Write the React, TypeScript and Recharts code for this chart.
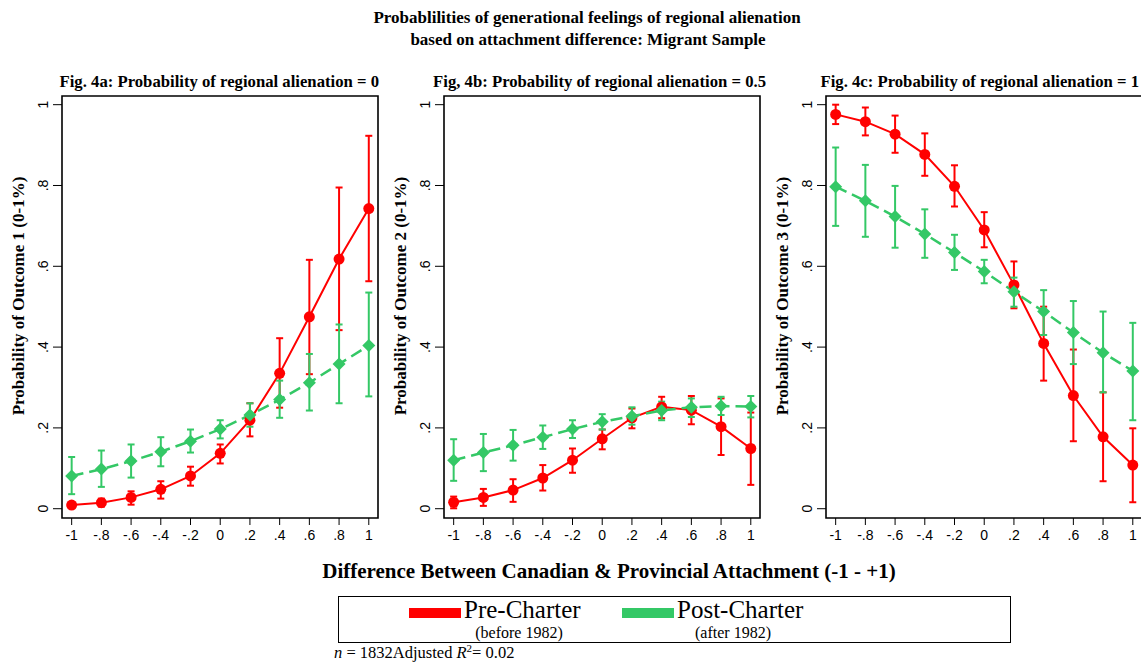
import React from "react";
import { LineChart, Line, XAxis, YAxis, ErrorBar, ReferenceArea } from "recharts";

// ---------- data ----------
const xValues = [-1, -0.8, -0.6, -0.4, -0.2, 0, 0.2, 0.4, 0.6, 0.8, 1];
const xTickLabels = ["-1", "-.8", "-.6", "-.4", "-.2", "0", ".2", ".4", ".6", ".8", "1"];
const yTicks = [0, 0.2, 0.4, 0.6, 0.8, 1];
const yTickLabels = ["0", ".2", ".4", ".6", ".8", "1"];

// Fig 4a (outcome 1)
const pre1 = [0.009, 0.015, 0.028, 0.048, 0.081, 0.137, 0.219, 0.335, 0.475, 0.618, 0.743];
const pre1Lo = [0.005, 0.005, 0.01, 0.025, 0.057, 0.112, 0.179, 0.25, 0.333, 0.442, 0.563];
const pre1Hi = [0.012, 0.025, 0.043, 0.068, 0.104, 0.159, 0.261, 0.422, 0.616, 0.795, 0.923];
const post1 = [0.081, 0.098, 0.118, 0.141, 0.167, 0.197, 0.232, 0.27, 0.312, 0.358, 0.404];
const post1Lo = [0.036, 0.054, 0.077, 0.105, 0.139, 0.174, 0.203, 0.225, 0.243, 0.261, 0.278];
const post1Hi = [0.128, 0.144, 0.159, 0.177, 0.196, 0.219, 0.261, 0.317, 0.383, 0.456, 0.535];

// Fig 4b (outcome 2)
const pre2 = [0.016, 0.028, 0.046, 0.076, 0.12, 0.173, 0.225, 0.252, 0.244, 0.203, 0.149];
const pre2Lo = [0.001, 0.007, 0.017, 0.045, 0.089, 0.147, 0.199, 0.224, 0.209, 0.133, 0.059];
const pre2Hi = [0.03, 0.049, 0.073, 0.108, 0.149, 0.196, 0.248, 0.277, 0.279, 0.273, 0.238];
const post2 = [0.12, 0.139, 0.157, 0.177, 0.197, 0.215, 0.229, 0.243, 0.251, 0.254, 0.253];
const post2Lo = [0.069, 0.093, 0.119, 0.148, 0.175, 0.196, 0.208, 0.219, 0.227, 0.232, 0.226];
const post2Hi = [0.172, 0.185, 0.195, 0.206, 0.219, 0.234, 0.251, 0.265, 0.273, 0.277, 0.279];

// Fig 4c (outcome 3)
const pre3 = [0.976, 0.958, 0.927, 0.877, 0.798, 0.69, 0.554, 0.409, 0.28, 0.178, 0.108];
const pre3Lo = [0.952, 0.924, 0.881, 0.824, 0.748, 0.647, 0.496, 0.317, 0.167, 0.068, 0.016];
const pre3Hi = [1.0, 0.993, 0.973, 0.929, 0.85, 0.734, 0.612, 0.5, 0.394, 0.288, 0.199];
const post3 = [0.797, 0.762, 0.723, 0.68, 0.634, 0.587, 0.537, 0.488, 0.436, 0.386, 0.341];
const post3Lo = [0.7, 0.673, 0.646, 0.621, 0.591, 0.558, 0.5, 0.43, 0.358, 0.288, 0.219];
const post3Hi = [0.894, 0.851, 0.799, 0.741, 0.678, 0.616, 0.572, 0.541, 0.514, 0.488, 0.46];

const panelTitles = [
  "Fig. 4a: Probability of regional alienation = 0",
  "Fig, 4b: Probability of regional alienation = 0.5",
  "Fig. 4c: Probability of regional alienation = 1",
];
const yAxisTitles = [
  "Probability of Outcome 1 (0-1%)",
  "Probability of Outcome 2 (0-1%)",
  "Probability of Outcome 3 (0-1%)",
];
const mainTitle = [
  "Probablilities of generational feelings of regional alienation",
  "based on attachment difference: Migrant Sample",
];
const xAxisTitle = "Difference Between Canadian & Provincial Attachment (-1 - +1)";
const seriesNames = ["Pre-Charter", "Post-Charter"];
const seriesSubs = ["(before 1982)", "(after 1982)"];

// ---------- styling ----------
const RED = "#ff0000";
const GREEN = "#34c866";
const SERIF = "'Liberation Serif', 'Times New Roman', serif";
const SANS = "'Liberation Sans', Arial, sans-serif";
const X_DOMAIN: [number, number] = [-1.065, 1.062];
const Y_DOMAIN: [number, number] = [-0.023, 1.0215];
const PANEL_LEFTS = [0, 382, 764];
const TITLE_RIGHTS = [379, 766, 1139];

function buildRows(pre: number[], preLo: number[], preHi: number[], post: number[], postLo: number[], postHi: number[]) {
  return xValues.map((x, i) => ({
    x,
    pre: pre[i],
    post: post[i],
    preErr: [pre[i] - preLo[i], preHi[i] - pre[i]],
    postErr: [post[i] - postLo[i], postHi[i] - post[i]],
  }));
}

const panelRows = [
  buildRows(pre1, pre1Lo, pre1Hi, post1, post1Lo, post1Hi),
  buildRows(pre2, pre2Lo, pre2Hi, post2, post2Lo, post2Hi),
  buildRows(pre3, pre3Lo, pre3Hi, post3, post3Lo, post3Hi),
];

const fmtX = (v: number) => {
  const i = xValues.findIndex((t) => Math.abs(t - v) < 1e-9);
  return i >= 0 ? xTickLabels[i] : String(v);
};

const RotTick = (props: any) => {
  const { x, y, payload } = props;
  const i = yTicks.findIndex((t) => Math.abs(t - payload.value) < 1e-9);
  return (
    <text
      x={x}
      y={y}
      transform={`rotate(-90 ${x} ${y})`}
      textAnchor="middle"
      fontSize={14}
      fontFamily={SANS}
      fill="#000"
    >
      {i >= 0 ? yTickLabels[i] : payload.value}
    </text>
  );
};

const DiamondDot = (props: any) => {
  const { cx, cy } = props;
  if (cx == null || cy == null) return null;
  const s = 6.5;
  return (
    <polygon
      key={`d-${cx}-${cy}`}
      points={`${cx},${cy - s} ${cx + s},${cy} ${cx},${cy + s} ${cx - s},${cy}`}
      fill={GREEN}
      stroke="none"
    />
  );
};

function Panel({ idx }: { idx: number }) {
  return (
    <div style={{ position: "absolute", left: PANEL_LEFTS[idx], top: 0 }}>
      <LineChart
        width={390}
        height={560}
        data={panelRows[idx]}
        margin={{ top: 96, right: 12, bottom: 12, left: 22 }}
      >
        <XAxis
          type="number"
          dataKey="x"
          domain={X_DOMAIN}
          ticks={xValues}
          interval={0}
          allowDataOverflow
          axisLine={false}
          tickSize={7}
          tickMargin={5}
          height={30}
          tickFormatter={fmtX}
          tick={{ fill: "#000", fontSize: 14, fontFamily: SANS }}
          tickLine={{ stroke: "#000", strokeWidth: 1 }}
        />
        <YAxis
          type="number"
          domain={Y_DOMAIN}
          ticks={yTicks}
          interval={0}
          allowDataOverflow
          axisLine={false}
          tickSize={9}
          tickMargin={5}
          width={40}
          tick={<RotTick />}
          tickLine={{ stroke: "#000", strokeWidth: 1 }}
        />
        <ReferenceArea
          x1={X_DOMAIN[0]}
          x2={X_DOMAIN[1]}
          y1={Y_DOMAIN[0]}
          y2={Y_DOMAIN[1]}
          fill="none"
          fillOpacity={0}
          stroke="#000"
          strokeWidth={1.6}
          ifOverflow="visible"
        />
        <Line
          type="linear"
          dataKey="pre"
          stroke={RED}
          strokeWidth={2}
          dot={{ r: 5.5, fill: RED, stroke: RED, strokeWidth: 0 }}
          activeDot={false}
          isAnimationActive={false}
        >
          <ErrorBar dataKey="preErr" direction="y" width={3.5} stroke={RED} strokeWidth={2} />
        </Line>
        <Line
          type="linear"
          dataKey="post"
          stroke={GREEN}
          strokeWidth={2.5}
          strokeDasharray="12 6"
          dot={<DiamondDot />}
          activeDot={false}
          isAnimationActive={false}
        >
          <ErrorBar dataKey="postErr" direction="y" width={3.5} stroke={GREEN} strokeWidth={2} />
        </Line>
      </LineChart>
    </div>
  );
}

export default function App() {
  return (
    <div
      style={{
        position: "absolute",
        left: 0,
        top: 0,
        width: 1141,
        height: 664,
        overflow: "hidden",
        background: "#fff",
      }}
    >
      {[0, 1, 2].map((i) => (
        <Panel key={i} idx={i} />
      ))}
      <svg
        width={1141}
        height={664}
        style={{ position: "absolute", left: 0, top: 0, pointerEvents: "none" }}
      >
        <text x={587} y={23} textAnchor="middle" fontFamily={SERIF} fontWeight="bold" fontSize={17} fill="#000">
          {mainTitle[0]}
        </text>
        <text x={588} y={45} textAnchor="middle" fontFamily={SERIF} fontWeight="bold" fontSize={17} fill="#000">
          {mainTitle[1]}
        </text>
        {panelTitles.map((t, i) => (
          <text key={t} x={TITLE_RIGHTS[i]} y={87} textAnchor="end" fontFamily={SERIF} fontWeight="bold" fontSize={16.7} fill="#000">
            {t}
          </text>
        ))}
        {yAxisTitles.map((t, i) => {
          const x = PANEL_LEFTS[i] + 24;
          const y = 296;
          return (
            <text
              key={t}
              x={x}
              y={y}
              transform={`rotate(-90 ${x} ${y})`}
              textAnchor="middle"
              fontFamily={SERIF}
              fontWeight="bold"
              fontSize={17}
              fill="#000"
            >
              {t}
            </text>
          );
        })}
        <text x={609} y={578} textAnchor="middle" fontFamily={SERIF} fontWeight="bold" fontSize={21} fill="#000">
          {xAxisTitle}
        </text>
        {/* legend */}
        <rect x={338.5} y={596.5} width={672} height={46} fill="none" stroke="#000" strokeWidth={1} />
        <rect x={409} y={608} width={52} height={10} fill={RED} />
        <text x={464} y={618} fontFamily={SERIF} fontSize={25} fill="#000">{seriesNames[0]}</text>
        <text x={519} y={638} textAnchor="middle" fontFamily={SERIF} fontSize={16} fill="#000">{seriesSubs[0]}</text>
        <rect x={622} y={608} width={52} height={10} fill={GREEN} />
        <text x={677} y={618} fontFamily={SERIF} fontSize={25} fill="#000">{seriesNames[1]}</text>
        <text x={733} y={638} textAnchor="middle" fontFamily={SERIF} fontSize={16} fill="#000">{seriesSubs[1]}</text>
        {/* footnote */}
        <text x={334} y={658} fontFamily={SERIF} fontSize={16.5} fill="#000">
          <tspan fontStyle="italic">n</tspan>
          <tspan> = 1832Adjusted </tspan>
          <tspan fontStyle="italic">R</tspan>
          <tspan fontSize={11} dy={-6}>2</tspan>
          <tspan dy={6}>= 0.02</tspan>
        </text>
      </svg>
    </div>
  );
}
